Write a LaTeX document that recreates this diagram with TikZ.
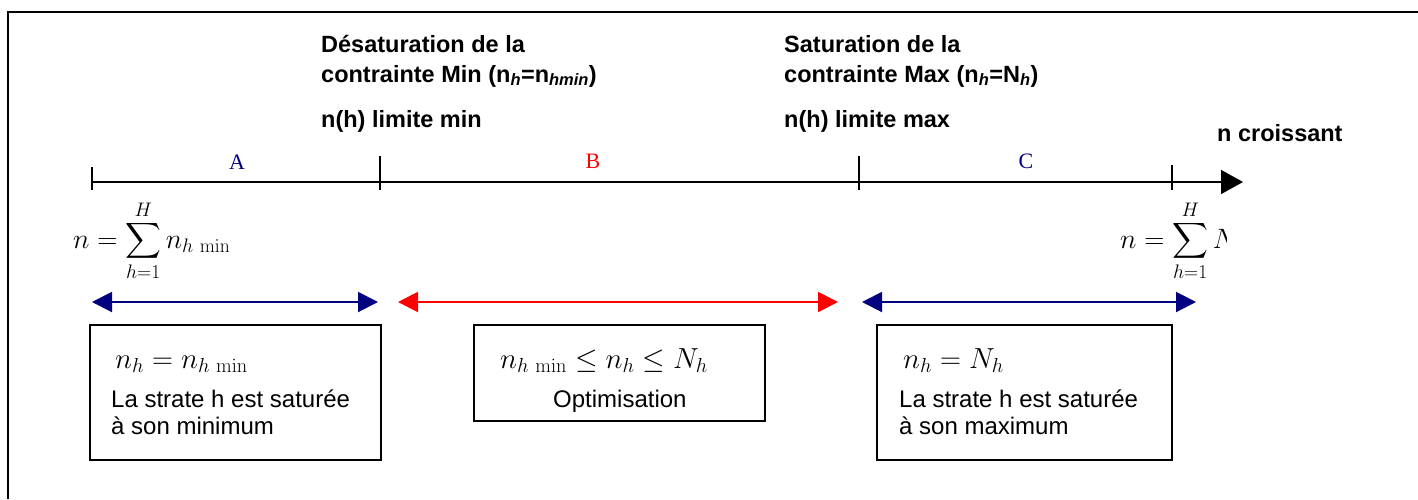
\RequirePackage{fix-cm}
\documentclass[tikz,border=0pt]{standalone}
\usepackage{exscale}
\usepackage[no-math]{fontspec}
\setmainfont{Liberation Sans}
\newfontfamily\timesfont{Liberation Serif}
\usetikzlibrary{arrows.meta, positioning}
\definecolor{navyA}{RGB}{0,0,128}

\tikzset{
  hdr/.style={anchor=base west, inner sep=0pt, font=\bfseries\fontsize{23.5}{23.5}\selectfont},
  txt/.style={anchor=base west, inner sep=0pt, font=\fontsize{24}{27}\selectfont},
  eq/.style={anchor=base west, inner sep=0pt, font=\fontsize{29}{29}\selectfont},
  sumeq/.style={anchor=base west, inner sep=0pt, font=\fontsize{28}{28}\selectfont},
  seg/.style={anchor=base, inner sep=0pt, font=\timesfont\fontsize{22}{22}\selectfont},
  rng/.style={{Triangle[length=20pt,width=20pt]}-{Triangle[length=20pt,width=20pt]}, line width=2pt},
  box/.style={draw, line width=2pt, inner sep=0pt}
}

\begin{document}
\begin{tikzpicture}[x=1pt, y=-1pt]
\useasboundingbox (0,0) rectangle (1418,499);

% frame
\draw[line width=2pt] (1418,12) -- (8,12) -- (8,499);

% axis with ticks
\coordinate (o) at (92,182);
\coordinate (e) at (1243,182);
\draw[line width=1.5pt, -{Triangle[length=22pt,width=24pt]}] (o) -- (e);
\foreach \x/\t in {92/167, 380/156, 859/156, 1172/165}
  \draw[line width=1.5pt] (\x,\t) -- (\x,190);
\node[hdr] (croiss) at (1217,141) {n croissant};

% segments
\node[seg, navyA] (lblA) at (237,169) {A};
\node[seg, red] (lblB) at (593,168) {B};
\node[seg, navyA] (lblC) at (1026,168) {C};

% limits
\node[hdr] (desat) at (321,52) {Désaturation de la};
\node[hdr] (cmin) at (321,82) {contrainte Min (n\textsubscript{\textit{h}}=n\textsubscript{\textit{hmin}})};
\node[hdr] (limMin) at (321,127) {n(h) limite min};
\node[hdr] (satur) at (784,52) {Saturation de la};
\node[hdr] (cmax) at (784,82) {contrainte Max (n\textsubscript{\textit{h}}=N\textsubscript{\textit{h}})};
\node[hdr] (limMax) at (784,127) {n(h) limite max};

% sums under the axis
\node[sumeq] (sumMin) at (73,248) {$\displaystyle n=\sum_{h=1}^{H} n_{h\,\min}$};
\begin{scope}
\clip (0,0) rectangle (1226,499);
\node[sumeq] (sumMax) at (1120,248) {$\displaystyle n=\sum_{h=1}^{H} N_h$};
\end{scope}

% ranges
\coordinate (a1) at (92,302);
\coordinate (a2) at (378,302);
\coordinate (b1) at (398,302);
\coordinate (b2) at (838,302);
\coordinate (c1) at (862,302);
\coordinate (c2) at (1196,302);
\draw[rng, navyA] (a1) -- (a2);
\draw[rng, red] (b1) -- (b2);
\draw[rng, navyA] (c1) -- (c2);

% boxes
\node[box, minimum width=291pt, minimum height=135pt] (boxA) at (235.5,392.5) {};
\node[box, minimum width=291pt, minimum height=96pt] (boxB) at (619.5,373) {};
\node[box, minimum width=295pt, minimum height=135pt] (boxC) at (1024.5,392.5) {};

\node[eq] (eqA) at (115,368) {$n_h = n_{h\,\min}$};
\node[txt] (txtA1) at (111,407) {La strate h est saturée};
\node[txt] (txtA2) at (111,434) {à son minimum};

\node[eq] (eqB) at (500,368) {$n_{h\,\min} \le n_h \le N_h$};
\node[txt] (txtB) at (553,407) {Optimisation};

\node[eq] (eqC) at (903,368) {$n_h = N_h$};
\node[txt] (txtC1) at (899,407) {La strate h est saturée};
\node[txt] (txtC2) at (899,434) {à son maximum};

\end{tikzpicture}
\end{document}
